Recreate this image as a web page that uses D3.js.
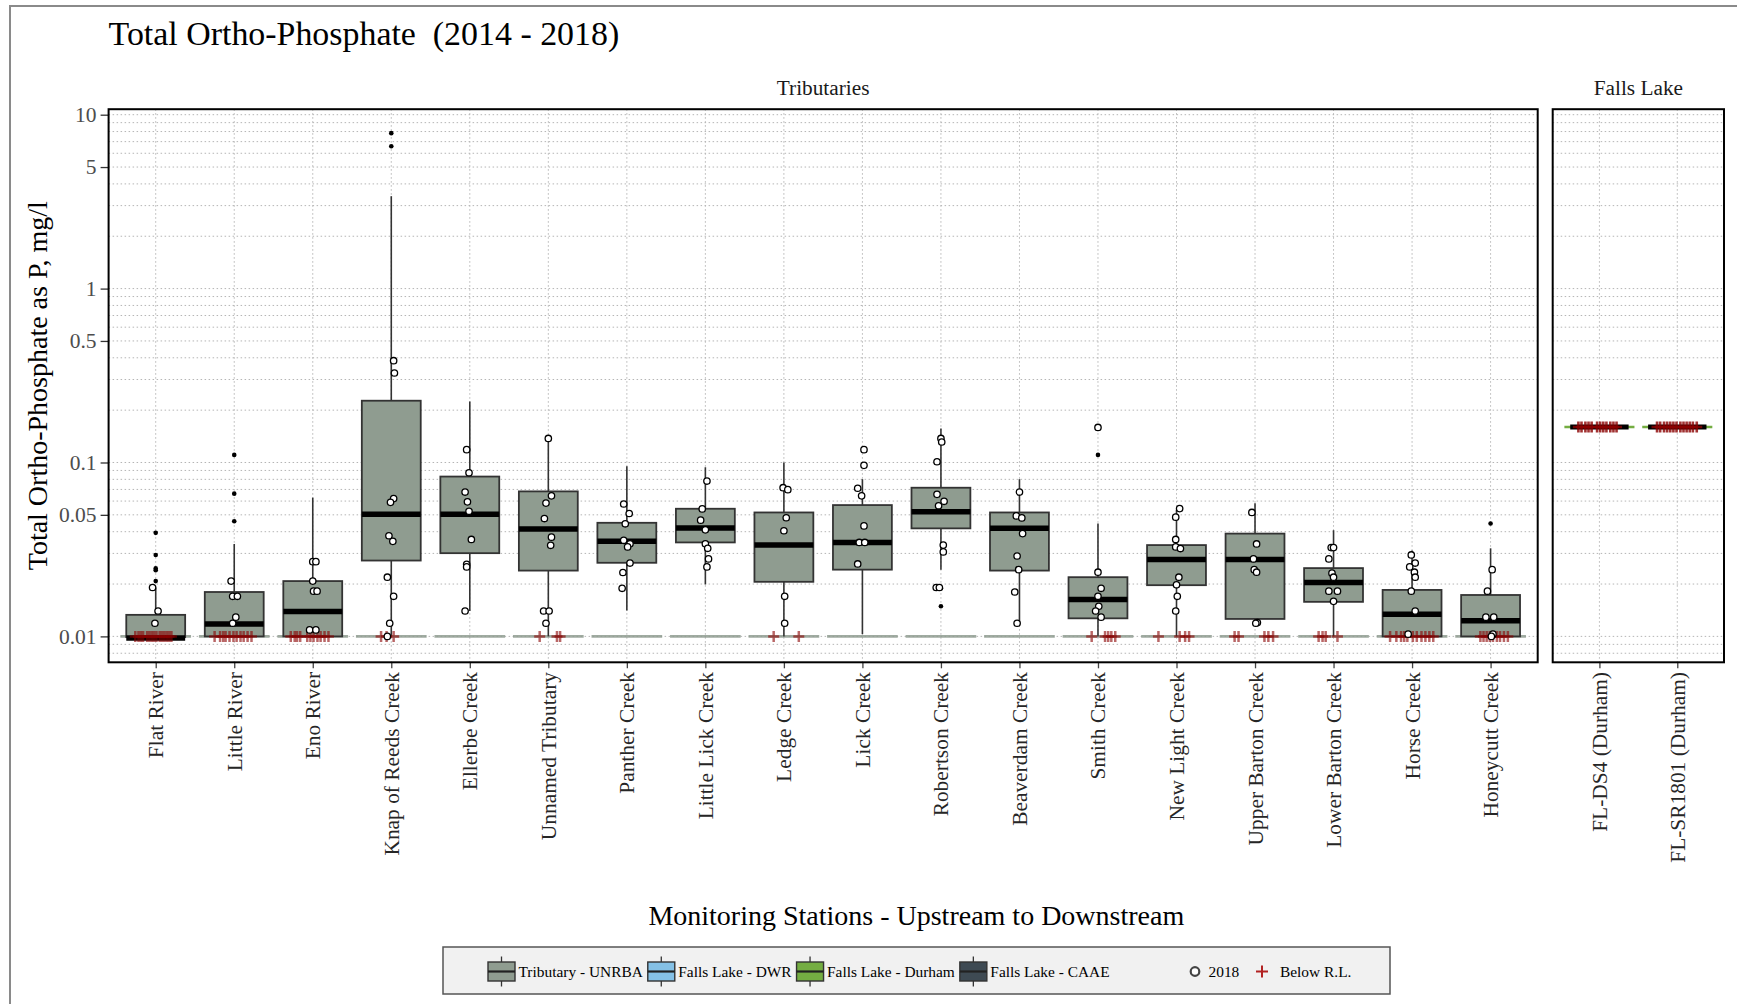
<!DOCTYPE html>
<html>
<head>
<meta charset="utf-8">
<script src="https://cdn.jsdelivr.net/npm/d3@7"></script>
<style>
  html, body { margin: 0; padding: 0; background: #fff; }
  svg { display: block; font-family: "Liberation Serif", "Times New Roman", serif; }
</style>
</head>
<body>
<svg id="chart" width="1737" height="1004"></svg>
<script>
// ---- Stations (upstream to downstream) ----
const tributaries = [
  "Flat River", "Little River", "Eno River", "Knap of Reeds Creek", "Ellerbe Creek",
  "Unnamed Tributary", "Panther Creek", "Little Lick Creek", "Ledge Creek", "Lick Creek",
  "Robertson Creek", "Beaverdam Creek", "Smith Creek", "New Light Creek",
  "Upper Barton Creek", "Lower Barton Creek", "Horse Creek", "Honeycutt Creek"
];
const lakeStations = ["FL-DS4 (Durham)", "FL-SR1801 (Durham)"];

// ---- Box summaries for the tributaries, mg/l ----
const whiskerLow  = [0.0099, 0.0100, 0.0100, 0.0100, 0.0140, 0.0100, 0.0141, 0.0199, 0.0100, 0.0103, 0.0242, 0.0119, 0.0100, 0.0100, 0.0119, 0.0100, 0.0100, 0.0100];
const quartile1   = [0.0099, 0.0100, 0.0100, 0.0273, 0.0301, 0.0239, 0.0265, 0.0347, 0.0206, 0.0242, 0.0418, 0.0239, 0.0127, 0.0197, 0.0126, 0.0158, 0.0100, 0.0100];
const medians     = [0.0098, 0.0118, 0.0139, 0.0504, 0.0504, 0.0414, 0.0352, 0.0420, 0.0335, 0.0347, 0.0521, 0.0418, 0.0163, 0.0277, 0.0277, 0.0204, 0.0134, 0.0123];
const quartile3   = [0.0133, 0.0180, 0.0208, 0.2266, 0.0830, 0.0682, 0.0450, 0.0542, 0.0516, 0.0569, 0.0716, 0.0516, 0.0219, 0.0335, 0.0390, 0.0247, 0.0185, 0.0173];
const whiskerHigh = [0.0191, 0.0340, 0.0628, 3.40, 0.2244, 0.1375, 0.0952, 0.0939, 0.1000, 0.0802, 0.157, 0.0802, 0.0446, 0.0534, 0.0583, 0.0408, 0.0312, 0.0321];

// Outlying samples (filled dots)
const outliers = [
  [0.0208, 0.0240, 0.0246, 0.0294, 0.0394],
  [0.0459, 0.0662, 0.1106],
  [], [6.59, 7.83], [], [], [], [], [], [],
  [0.0149, 0.0189],
  [], [0.1106], [], [], [], [],
  [0.0446]
];

// 2018 samples: [value, horizontal jitter in category widths]
const samples2018 = [
  [[0.0191, -0.04], [0.0140, 0.03], [0.0119, -0.01]],
  [[0.0208, -0.04], [0.0170, -0.02], [0.0170, 0.04], [0.0129, 0.02], [0.0119, -0.02]],
  [[0.0269, 0.00], [0.0269, 0.04], [0.0208, 0.00], [0.0182, 0.01], [0.0182, 0.055], [0.0109, -0.04], [0.0109, 0.04]],
  [[0.385, 0.03], [0.327, 0.04], [0.062, 0.03], [0.059, -0.01], [0.0379, -0.03], [0.0352, 0.02], [0.0219, -0.05], [0.0170, 0.03], [0.0119, -0.02], [0.0100, -0.05]],
  [[0.1185, -0.04], [0.0873, -0.01], [0.0676, -0.06], [0.0594, -0.03], [0.0524, -0.01], [0.0361, 0.02], [0.0260, -0.04], [0.0251, -0.04], [0.0140, -0.06]],
  [[0.1375, 0.00], [0.0643, 0.04], [0.0584, -0.03], [0.0476, -0.05], [0.0372, 0.04], [0.0334, 0.03], [0.0140, -0.06], [0.0140, 0.01], [0.0119, -0.03]],
  [[0.0577, -0.04], [0.0509, 0.03], [0.0444, -0.02], [0.0357, -0.04], [0.0341, 0.04], [0.0327, 0.01], [0.0264, 0.04], [0.0233, -0.05], [0.0189, -0.06]],
  [[0.0782, 0.02], [0.0541, -0.04], [0.0466, -0.06], [0.0410, 0.00], [0.0341, 0.00], [0.0321, 0.03], [0.0279, 0.04], [0.0251, 0.02]],
  [[0.0716, -0.01], [0.0698, 0.05], [0.0481, 0.03], [0.0405, 0.00], [0.0170, 0.01], [0.0119, 0.01]],
  [[0.1185, 0.02], [0.0963, 0.02], [0.0711, -0.06], [0.0643, -0.01], [0.0432, 0.02], [0.0347, -0.04], [0.0347, 0.03], [0.0261, -0.06]],
  [[0.1375, 0.00], [0.1312, 0.01], [0.1010, -0.05], [0.0656, -0.05], [0.0598, 0.04], [0.0564, -0.03], [0.0335, 0.03], [0.0306, 0.03], [0.0191, -0.06], [0.0191, -0.02]],
  [[0.0676, 0.00], [0.0493, -0.04], [0.0480, 0.03], [0.0390, 0.04], [0.0290, -0.03], [0.0242, -0.01], [0.0180, -0.06], [0.0119, -0.03]],
  [[0.159, 0.00], [0.0234, 0.00], [0.0189, 0.04], [0.0170, 0.00], [0.0149, 0.01], [0.0140, -0.03], [0.0129, 0.04]],
  [[0.0543, 0.04], [0.0485, -0.01], [0.0361, -0.01], [0.0327, -0.01], [0.0320, 0.05], [0.0219, 0.03], [0.0198, 0.00], [0.0170, 0.01], [0.0140, -0.01]],
  [[0.0516, -0.04], [0.0340, 0.02], [0.0279, -0.02], [0.0242, -0.01], [0.0234, 0.02], [0.0120, 0.03], [0.0119, 0.01]],
  [[0.0324, -0.03], [0.0324, 0.00], [0.0279, -0.06], [0.0231, -0.02], [0.0219, 0.00], [0.0182, -0.06], [0.0182, 0.05], [0.0159, 0.00]],
  [[0.0294, -0.01], [0.0264, 0.04], [0.0251, -0.03], [0.0234, 0.03], [0.0219, 0.04], [0.0182, -0.01], [0.0140, 0.04], [0.0103, -0.05]],
  [[0.0242, 0.02], [0.0182, -0.04], [0.0129, -0.06], [0.0129, 0.04], [0.0103, 0.03], [0.0100, 0.01]]
];

// Samples below the reporting limit: horizontal jitter of each, in category widths
const belowRL = [
  [-0.26, -0.22, -0.19, -0.16, -0.11, -0.08, -0.05, -0.02, 0.01, 0.05, 0.08, 0.11, 0.14, 0.17, 0.20],
  [-0.25, -0.18, -0.14, -0.11, -0.06, -0.01, 0.03, 0.08, 0.12, 0.17, 0.22],
  [-0.28, -0.23, -0.20, -0.16, -0.07, -0.03, 0.01, 0.06, 0.10, 0.15, 0.20],
  [-0.13, -0.06, 0.03],
  [],
  [-0.11, 0.11, 0.15],
  [], [],
  [-0.13, 0.19],
  [], [], [],
  [-0.08, 0.09, 0.13, 0.17, 0.22],
  [-0.23, 0.04, 0.11, 0.16],
  [-0.26, -0.21, 0.12, 0.17, 0.23],
  [-0.19, -0.14, -0.10, 0.05],
  [-0.28, -0.20, -0.14, -0.10, -0.06, 0.01, 0.06, 0.12, 0.17, 0.22, 0.27],
  [-0.13, -0.09, -0.05, -0.01, 0.03, 0.08, 0.12, 0.17, 0.22]
];
const tributaryRL = 0.01;

// ---- Falls Lake (Durham) stations: every sample at the reporting limit ----
const lakeMedians = [0.16, 0.16];
const lakeRL = 0.16;
const lakeBelowRL = [
  [-0.27, -0.23, -0.18, -0.14, -0.10, -0.03, 0.01, 0.05, 0.09, 0.14, 0.18, 0.22],
  [-0.26, -0.22, -0.17, -0.13, -0.09, -0.05, -0.01, 0.04, 0.08, 0.12, 0.16, 0.20, 0.25]
];

// ---- Axis ticks and legend ----
const yTickValues = [0.01, 0.05, 0.1, 0.5, 1, 5, 10];
const yTickLabels = ["0.01", "0.05", "0.1", "0.5", "1", "5", "10"];
const legendGroups = ["Tributary - UNRBA", "Falls Lake - DWR", "Falls Lake - Durham", "Falls Lake - CAAE"];
const legendColors = ["#8f9c90", "#85c1e6", "#74ad42", "#3e4a53"];
const legendMarks = ["2018", "Below R.L."];

// ---------------------------------------------------------------
const svg = d3.select("#chart");
const FILL_TRIB = legendColors[0];
const FILL_LAKE = legendColors[2];
const CROSS = "#8b0000";
const CROSS_HALF = 5.5;

const plotTop = 109.2, plotBottom = 662.3;
const panels = [
  { name: "Tributaries", x0: 108.6, x1: 1537.7, stations: tributaries },
  { name: "Falls Lake",  x0: 1552.7, x1: 1724,  stations: lakeStations }
];

const y = d3.scaleLog()
  .domain([Math.pow(10, -2.149), Math.pow(10, 1.0316)])
  .range([plotBottom, plotTop]);

panels.forEach(p => {
  p.x = d3.scalePoint().domain(p.stations).range([p.x0, p.x1]).padding(0.6);
});

const crossPath = (cx, cy) =>
  `M${cx - CROSS_HALF},${cy}h${2 * CROSS_HALF}M${cx},${cy - CROSS_HALF}v${2 * CROSS_HALF}`;

// outer frame
svg.append("path")
  .attr("d", "M10,1004V6H1737")
  .attr("fill", "none").attr("stroke", "#8a8a8a").attr("stroke-width", 2);

// title
svg.append("text")
  .attr("x", 108.6).attr("y", 45)
  .style("white-space", "pre")
  .attr("font-size", 33.9).attr("fill", "#000")
  .text("Total Ortho-Phosphate  (2014 - 2018)");

// panels
panels.forEach(p => {
  const g = svg.append("g");

  // strip label
  svg.append("text")
    .attr("x", (p.x0 + p.x1) / 2).attr("y", 95)
    .attr("text-anchor", "middle").attr("font-size", 21.3).attr("fill", "#1a1a1a")
    .text(p.name);

  // grid
  const grid = g.append("g").attr("stroke", "#b5b5b5").attr("stroke-width", 1)
    .attr("stroke-dasharray", "1.5,2.5");
  grid.selectAll("line.h").data(y.ticks()).join("line").attr("class", "h")
    .attr("x1", p.x0).attr("x2", p.x1)
    .attr("y1", d => y(d)).attr("y2", d => y(d));
  grid.selectAll("line.v").data(p.stations).join("line").attr("class", "v")
    .attr("x1", d => p.x(d)).attr("x2", d => p.x(d))
    .attr("y1", plotTop).attr("y2", plotBottom);

  // x axis ticks + labels
  const xa = svg.append("g").attr("transform", `translate(0,${plotBottom})`)
    .call(d3.axisBottom(p.x).tickSize(6).tickSizeOuter(0).tickPadding(0).tickFormat(""));
  xa.select(".domain").remove();
  xa.selectAll(".tick line").attr("stroke", "#444").attr("stroke-width", 1.3);
  svg.append("g").selectAll("text").data(p.stations).join("text")
    .attr("transform", d => `translate(${p.x(d)},672) rotate(-90)`)
    .attr("dy", "0.35em").attr("text-anchor", "end")
    .attr("font-size", 21.4).attr("fill", "#262626")
    .text(d => d);

  p.g = g;
});

// y axis on the left panel
const ya = svg.append("g").attr("transform", `translate(${panels[0].x0},0)`)
  .call(d3.axisLeft(y).tickValues(yTickValues)
    .tickFormat((d, i) => yTickLabels[i]).tickSize(8).tickPadding(4).tickSizeOuter(0));
ya.select(".domain").remove();
ya.selectAll(".tick line").attr("stroke", "#333").attr("stroke-width", 1.3);
ya.selectAll(".tick text").attr("font-size", 21.5).attr("fill", "#4d4d4d")
  .attr("font-family", "Liberation Serif, Times New Roman, serif");

// ---- tributary boxes ----
(function drawTributaries() {
  const p = panels[0], g = p.g, x = p.x, step = x.step();
  const bw = 0.75 * step, rlw = 0.9 * step;

  tributaries.forEach((s, i) => {
    const cx = x(s);
    // reporting-limit bar
    g.append("line")
      .attr("x1", cx - rlw / 2).attr("x2", cx + rlw / 2)
      .attr("y1", y(tributaryRL)).attr("y2", y(tributaryRL))
      .attr("stroke", FILL_TRIB).attr("stroke-opacity", 0.85).attr("stroke-width", 2.6);
    // whiskers
    g.append("line").attr("x1", cx).attr("x2", cx)
      .attr("y1", y(whiskerHigh[i])).attr("y2", y(quartile3[i]))
      .attr("stroke", "#333").attr("stroke-width", 1.6);
    g.append("line").attr("x1", cx).attr("x2", cx)
      .attr("y1", y(quartile1[i])).attr("y2", y(whiskerLow[i]))
      .attr("stroke", "#333").attr("stroke-width", 1.6);
    // box
    g.append("rect")
      .attr("x", cx - bw / 2).attr("width", bw)
      .attr("y", y(quartile3[i])).attr("height", y(quartile1[i]) - y(quartile3[i]))
      .attr("fill", FILL_TRIB).attr("stroke", "#333").attr("stroke-width", 1.8);
    // median
    g.append("line")
      .attr("x1", cx - bw / 2).attr("x2", cx + bw / 2)
      .attr("y1", y(medians[i])).attr("y2", y(medians[i]))
      .attr("stroke", "#000").attr("stroke-width", 5.5);
    // outliers
    g.selectAll(null).data(outliers[i]).join("circle")
      .attr("cx", cx).attr("cy", d => y(d)).attr("r", 2.3).attr("fill", "#000");
  });

  // below reporting limit
  tributaries.forEach((s, i) => {
    const cx = x(s);
    g.selectAll(null).data(belowRL[i]).join("path")
      .attr("d", d => crossPath(cx + d * step, y(tributaryRL)))
      .attr("stroke", CROSS).attr("stroke-opacity", 0.6).attr("stroke-width", 2.5).attr("fill", "none");
  });

  // 2018 samples
  tributaries.forEach((s, i) => {
    const cx = x(s);
    g.selectAll(null).data(samples2018[i]).join("circle")
      .attr("cx", d => cx + d[1] * step).attr("cy", d => y(d[0])).attr("r", 3.2)
      .attr("fill", "#fff").attr("stroke", "#000").attr("stroke-width", 1.3);
  });
})();

// ---- Falls Lake stations ----
(function drawLake() {
  const p = panels[1], g = p.g, x = p.x, step = x.step();
  const bw = 0.75 * step, rlw = 0.9 * step;
  lakeStations.forEach((s, i) => {
    const cx = x(s);
    g.append("line")
      .attr("x1", cx - rlw / 2).attr("x2", cx + rlw / 2)
      .attr("y1", y(lakeRL)).attr("y2", y(lakeRL))
      .attr("stroke", FILL_LAKE).attr("stroke-width", 2.6);
    g.append("line")
      .attr("x1", cx - bw / 2).attr("x2", cx + bw / 2)
      .attr("y1", y(lakeMedians[i])).attr("y2", y(lakeMedians[i]))
      .attr("stroke", "#000").attr("stroke-width", 5);
    g.selectAll(null).data(lakeBelowRL[i]).join("path")
      .attr("d", d => crossPath(cx + d * step, y(lakeRL)))
      .attr("stroke", CROSS).attr("stroke-opacity", 0.8).attr("stroke-width", 2.6).attr("fill", "none");
  });
})();

// panel borders (on top)
panels.forEach(p => {
  svg.append("rect")
    .attr("x", p.x0).attr("y", plotTop).attr("width", p.x1 - p.x0).attr("height", plotBottom - plotTop)
    .attr("fill", "none").attr("stroke", "#000").attr("stroke-width", 2);
});

// y axis title
svg.append("text")
  .attr("transform", `translate(37,${(plotTop + plotBottom) / 2}) rotate(-90)`)
  .attr("dy", "0.35em").attr("text-anchor", "middle").attr("font-size", 28)
  .text("Total Ortho-Phosphate as P, mg/l");

// x axis title
svg.append("text")
  .attr("x", (panels[0].x0 + panels[1].x1) / 2).attr("y", 925)
  .attr("text-anchor", "middle").attr("font-size", 28)
  .text("Monitoring Stations - Upstream to Downstream");

// ---- legend ----
(function drawLegend() {
  const lg = svg.append("g");
  lg.append("rect").attr("x", 443).attr("y", 947).attr("width", 947).attr("height", 47)
    .attr("fill", "#f1f1f1").attr("stroke", "#555").attr("stroke-width", 1.5);
  const cy = 971.5;
  let xpos = 488;
  legendGroups.forEach((name, i) => {
    const k = lg.append("g").attr("transform", `translate(${xpos},0)`);
    k.append("line").attr("x1", 13.5).attr("x2", 13.5).attr("y1", cy - 15).attr("y2", cy + 15)
      .attr("stroke", "#333").attr("stroke-width", 1.3);
    k.append("rect").attr("x", 0).attr("y", cy - 9.5).attr("width", 27).attr("height", 19)
      .attr("fill", legendColors[i]).attr("stroke", "#333").attr("stroke-width", 1.4);
    k.append("line").attr("x1", 0).attr("x2", 27).attr("y1", cy).attr("y2", cy)
      .attr("stroke", "#222").attr("stroke-width", 2.2);
    const t = lg.append("text").attr("x", xpos + 30.5).attr("y", cy).attr("dy", "0.33em")
      .attr("font-size", 15.4).text(name);
    xpos += 30.5 + t.node().getComputedTextLength() + 5;
  });
  // point marks
  lg.append("circle").attr("cx", 1195).attr("cy", cy).attr("r", 4.3)
    .attr("fill", "#fff").attr("stroke", "#444").attr("stroke-width", 2.2);
  lg.append("text").attr("x", 1208.5).attr("y", cy).attr("dy", "0.33em")
    .attr("font-size", 15.4).text(legendMarks[0]);
  lg.append("path").attr("d", `M${1262 - 6},${cy}h12M1262,${cy - 6}v12`)
    .attr("stroke", "#b22222").attr("stroke-width", 2);
  lg.append("text").attr("x", 1280).attr("y", cy).attr("dy", "0.33em")
    .attr("font-size", 15.4).text(legendMarks[1]);
})();
</script>
</body>
</html>
